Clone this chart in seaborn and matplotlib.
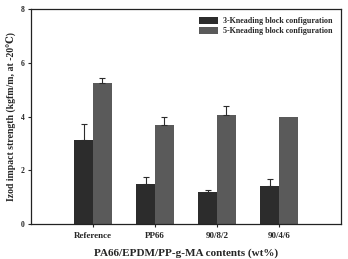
import numpy as np
import pandas as pd
import matplotlib
matplotlib.use("Agg")
import matplotlib.pyplot as plt
import seaborn as sns

# data
groups = ["Reference", "PP66", "90/8/2", "90/4/6"]
configs = ["3-Kneading block configuration", "5-Kneading block configuration"]
kb3 = [3.12, 1.49, 1.19, 1.43]
kb5 = [5.24, 3.67, 4.07, 4.00]
kb3_err = [0.59, 0.26, 0.09, 0.23]
kb5_err = [0.21, 0.32, 0.31, 0.0]

sns.set_style("ticks")
plt.rcParams["font.family"] = ["Liberation Serif", "DejaVu Serif"]
plt.rcParams["font.weight"] = "bold"

df = pd.DataFrame({
    "group": groups * 2,
    "config": [configs[0]] * 4 + [configs[1]] * 4,
    "value": kb3 + kb5,
})

fig, ax = plt.subplots(figsize=(3.48, 2.59), dpi=100)
fig.subplots_adjust(left=0.089, right=0.98, bottom=0.135, top=0.965)

sns.barplot(data=df, x="group", y="value", hue="config", order=groups,
            hue_order=configs, palette=["#2c2c2c", "#5a5a5a"],
            width=0.6, gap=0, errorbar=None, saturation=1,
            linewidth=0, ax=ax)

# one-sided error bars on top of each bar
errs = kb3_err + kb5_err
for patch, e in zip(ax.patches[:8], errs):
    if e <= 0:
        continue
    cx = patch.get_x() + patch.get_width() / 2
    h = patch.get_height()
    ax.errorbar(cx, h, yerr=[[0], [e]], fmt="none", ecolor="#2c2c2c",
                elinewidth=0.8, capsize=2.5, capthick=0.8)

ax.set_xlim(-1, 4)
ax.set_ylim(0, 8)
ax.set_yticks([0, 2, 4, 6, 8])
ax.tick_params(axis="y", labelsize=5.5, length=2.5, width=0.8, pad=2)
ax.tick_params(axis="x", labelsize=6.5, length=2.5, width=0.8, pad=3.5)
for s in ax.spines.values():
    s.set_linewidth(0.9)
    s.set_color("#222222")

ax.set_xlabel("PA66/EPDM/PP-g-MA contents (wt%)", fontsize=8, fontweight="bold", labelpad=6)
ax.set_ylabel("Izod impact strength (kgfm/m, at -20\u2103)", fontsize=7, fontweight="bold", labelpad=3)

leg = ax.legend(loc="upper right", frameon=False, fontsize=5.8,
                handlelength=2.4, handleheight=0.9, labelspacing=0.25,
                handletextpad=0.6, bbox_to_anchor=(0.99, 0.99), borderaxespad=0.3)

fig.savefig("out.png", dpi=100)
